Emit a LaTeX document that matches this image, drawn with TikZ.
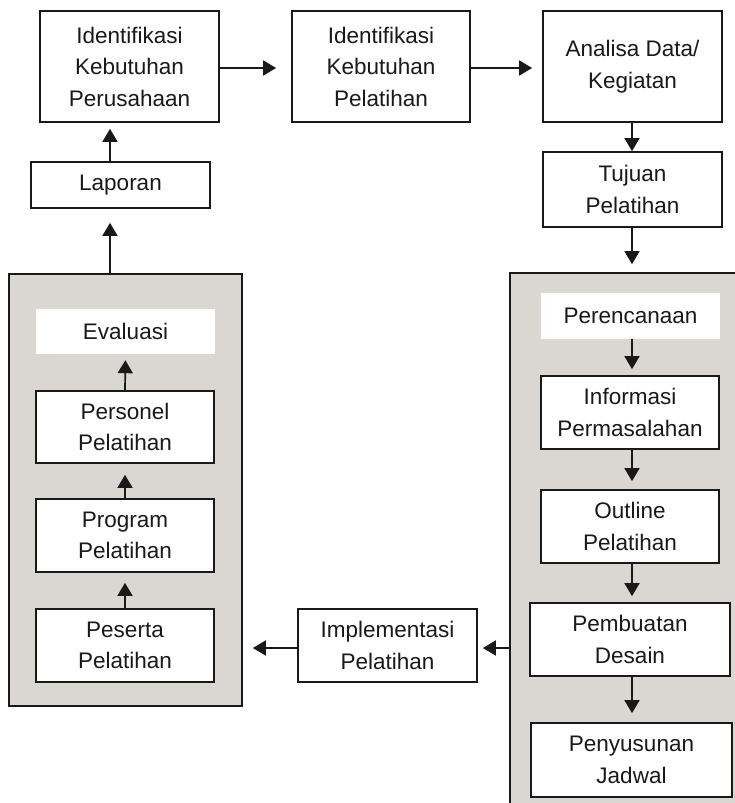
\documentclass[tikz,border=0pt]{standalone}
\usepackage{fontspec}
\setmainfont{Liberation Sans}
\usetikzlibrary{arrows.meta}
\definecolor{panelgrey}{RGB}{218,214,210}
\definecolor{ink}{RGB}{25,25,25}
\begin{document}
\begin{tikzpicture}[x=1pt,y=-1pt,
  font=\fontsize{22.5}{31.5}\selectfont,
  box/.style={draw=ink,line width=1.7pt,fill=white,inner sep=0pt,align=center,text=ink},
  plainbox/.style={fill=white,inner sep=0pt,align=center,text=ink},
  panel/.style={draw=ink,line width=1.7pt,fill=panelgrey,inner sep=0pt},
  conn/.style={draw=ink,line width=1.7pt,-{Triangle[length=13pt,width=15pt]}}]
\useasboundingbox (0,0) rectangle (735,803);
\clip (0,0) rectangle (735,803);
\fill[white] (0,0) rectangle (735,803);
% panels
\node[panel,minimum width=233pt,minimum height=432pt] (lc) at (125.5,490) {};
\node[panel,minimum width=240pt,minimum height=547pt] (rc) at (630,546.5) {};
% top row
\node[box,minimum width=179pt,minimum height=111pt] (A) at (129.5,66.5) {Identifikasi\\Kebutuhan\\Perusahaan};
\node[box,minimum width=178pt,minimum height=111pt] (B) at (381,66.5) {Identifikasi\\Kebutuhan\\Pelatihan};
\node[box,minimum width=179pt,minimum height=111pt] (C) at (632.5,66.5) {Analisa Data/\\Kegiatan};
\node[box,minimum width=179pt,minimum height=75pt] (D) at (632.5,189.5) {Tujuan\\Pelatihan};
\node[box,minimum width=179pt,minimum height=46pt] (lap) at (120.5,185) {Laporan};
% left panel
\node[plainbox,minimum width=179pt,minimum height=45pt] (eval) at (125.5,331.5) {Evaluasi};
\node[box,minimum width=178pt,minimum height=72pt] (pers) at (125,427) {Personel\\Pelatihan};
\node[box,minimum width=178pt,minimum height=73pt] (prog) at (125,535.5) {Program\\Pelatihan};
\node[box,minimum width=178pt,minimum height=73pt] (pes) at (125,645.5) {Peserta\\Pelatihan};
% middle
\node[box,minimum width=179pt,minimum height=73pt] (impl) at (387.5,645.5) {Implementasi\\Pelatihan};
% right panel
\node[plainbox,minimum width=179pt,minimum height=46pt] (ren) at (630.5,316) {Perencanaan};
\node[box,minimum width=178pt,minimum height=73pt] (info) at (630,412.5) {Informasi\\Permasalahan};
\node[box,minimum width=178pt,minimum height=73pt] (out) at (630,526.5) {Outline\\Pelatihan};
\node[box,minimum width=200pt,minimum height=73pt] (pemb) at (630,639.5) {Pembuatan\\Desain};
\node[box,minimum width=201pt,minimum height=74pt] (peny) at (631.5,760) {Penyusunan\\Jadwal};
% helper coordinates
\coordinate (vl) at (110,0);
\coordinate (vr) at (632,0);
\coordinate (ht) at (0,68);
\coordinate (hm) at (0,648);
% connectors
\draw[conn,shorten >=15pt] (A.east |- ht) -- (B.west |- ht);
\draw[conn,shorten >=10pt] (B.east |- ht) -- (C.west |- ht);
\draw[conn] (C.south -| vr) -- (D.north -| vr);
\draw[conn,shorten >=8pt] (D.south -| vr) -- (rc.north -| vr);
\draw[conn,shorten >=6pt] (lap.north -| vl) -- (A.south -| vl);
\draw[conn,shorten >=14pt] (lc.north -| vl) -- (lap.south -| vl);
\draw[conn,shorten >=6pt] (pers.north) -- (eval.south);
\draw[conn,shorten >=11pt] (prog.north) -- (pers.south);
\draw[conn,shorten >=10pt] (pes.north) -- (prog.south);
\draw[conn,shorten >=6pt] (ren.south -| vr) -- (info.north -| vr);
\draw[conn,shorten >=8pt] (info.south -| vr) -- (out.north -| vr);
\draw[conn,shorten >=6pt] (out.south -| vr) -- (pemb.north -| vr);
\draw[conn,shorten >=9pt] (pemb.south -| vr) -- (peny.north -| vr);
\draw[conn,shorten >=5pt] (rc.west |- hm) -- (impl.east |- hm);
\draw[conn,shorten >=10pt] (impl.west |- hm) -- (lc.east |- hm);
\end{tikzpicture}
\end{document}
